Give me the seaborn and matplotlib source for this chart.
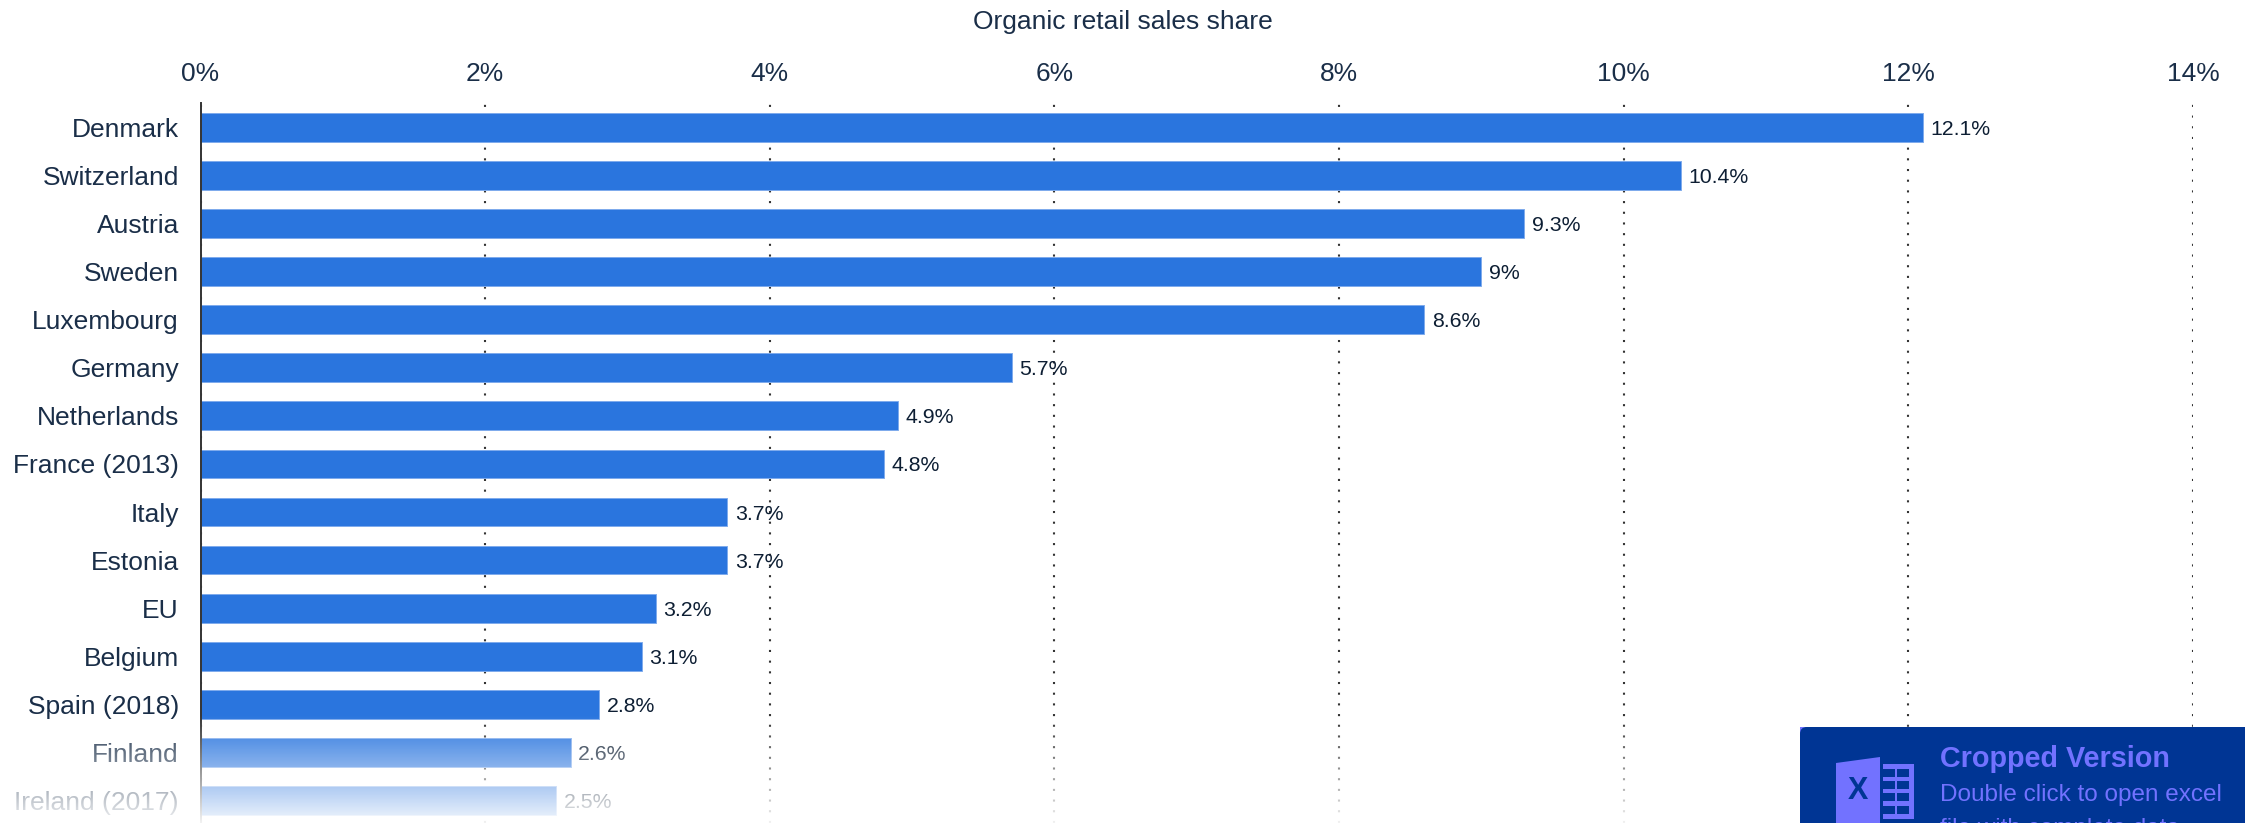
import numpy as np
import pandas as pd
import matplotlib
matplotlib.use("Agg")
import matplotlib.pyplot as plt
from matplotlib.patches import FancyBboxPatch, Polygon, Rectangle
import seaborn as sns

countries = ["Denmark", "Switzerland", "Austria", "Sweden", "Luxembourg", "Germany",
             "Netherlands", "France (2013)", "Italy", "Estonia", "EU", "Belgium",
             "Spain (2018)", "Finland", "Ireland (2017)"]
shares = [12.1, 10.4, 9.3, 9.0, 8.6, 5.7, 4.9, 4.8, 3.7, 3.7, 3.2, 3.1, 2.8, 2.6, 2.5]
x_ticks = [0, 2, 4, 6, 8, 10, 12, 14]
title = "Organic retail sales share"

W, H = 2245, 823
TEXT = "#1a2e48"
BAR = "#2a75de"

sns.set_theme(style="white")
plt.rcParams["font.family"] = ["Liberation Sans", "DejaVu Sans"]

fig = plt.figure(figsize=(W / 100, H / 100), dpi=100, facecolor="white")
ax = fig.add_axes([200.5 / W, 0, (2193 - 200.5) / W, (H - 103.5) / H])

df = pd.DataFrame({"country": countries, "share": shares})
sns.barplot(data=df, y="country", x="share", orient="h", color=BAR, saturation=1,
            width=0.6, edgecolor="#7fabec", linewidth=0.7, ax=ax, zorder=3)

ax.set_xlim(0, 14)
ax.set_ylim((H - 103.5) / 48.06 - 0.5, -0.5)
ax.set_xlabel("")
ax.set_ylabel("")
ax.xaxis.tick_top()
ax.set_xticks(x_ticks)
ax.set_xticklabels([f"{t}%" for t in x_ticks])
ax.tick_params(axis="x", length=0, pad=12.5, labelsize=19, labelcolor=TEXT)
ax.tick_params(axis="y", length=0, pad=15.5, labelsize=19, labelcolor=TEXT)
ax.xaxis.grid(True, color="#333333", linewidth=1.5, linestyle=(0, (1.0, 4.13)), zorder=1)
ax.yaxis.grid(False)
ax.set_axisbelow(True)
for side in ["top", "right", "bottom"]:
    ax.spines[side].set_visible(False)
ax.spines["left"].set_color("#333333")
ax.spines["left"].set_linewidth(1.4)
ax.spines["left"].set_zorder(5)

value_labels = ax.bar_label(ax.containers[0], labels=[f"{v:g}%" for v in shares], padding=5.5,
                            fontsize=15.3, color="#0d1e33")
for label in value_labels:
    label.set_va("center_baseline")

fig.text(0.5, 1 - 21.5 / H, title, ha="center", va="center", fontsize=19, color=TEXT)

# white fade over the lower part of the chart
fade = fig.add_axes([0, 0, 1, 108 / H], zorder=10)
rgba = np.ones((108, 2, 4))
rgba[:, :, 3] = np.linspace(0, 0.94, 108)[:, None]
fade.imshow(rgba, aspect="auto", interpolation="bilinear")
fade.axis("off")

# badge
ov = fig.add_axes([0, 0, 1, 1], zorder=20)
ov.set_xlim(0, W)
ov.set_ylim(H, 0)
ov.axis("off")
ov.patch.set_alpha(0)
BADGE = "#003594"
LIGHT = "#7272ff"
ov.add_patch(Rectangle((1800, 727), 12, 12, fc=LIGHT, ec="none"))
ov.add_patch(FancyBboxPatch((1800, 727), 600, 200, boxstyle="round,pad=0,rounding_size=7",
                            fc=BADGE, ec="none"))
ov.add_patch(Polygon([(1836, 763), (1880, 757), (1880, 832), (1836, 824)], fc=LIGHT, ec="none"))
ov.add_patch(Rectangle((1883, 764), 31, 55, fc=LIGHT, ec="none"))
for y0 in (769, 781, 793, 806):
    ov.add_patch(Rectangle((1883, y0), 26, 8, fc=BADGE, ec="none"))
ov.add_patch(Rectangle((1895, 769), 2, 45, fc=LIGHT, ec="none"))
ov.text(1858, 791, "X", ha="center", va="center", fontsize=22, fontweight="bold", color=BADGE)
ov.text(1940, 759, "Cropped Version", ha="left", va="center", fontsize=20.7, fontweight="bold", color=LIGHT)
ov.text(1940, 795, "Double click to open excel", ha="left", va="center", fontsize=17.5, color=LIGHT)
ov.text(1940, 829, "file with complete data", ha="left", va="center", fontsize=17.5, color=LIGHT, clip_on=False)

fig.savefig("out.png", dpi=100, facecolor="white")
